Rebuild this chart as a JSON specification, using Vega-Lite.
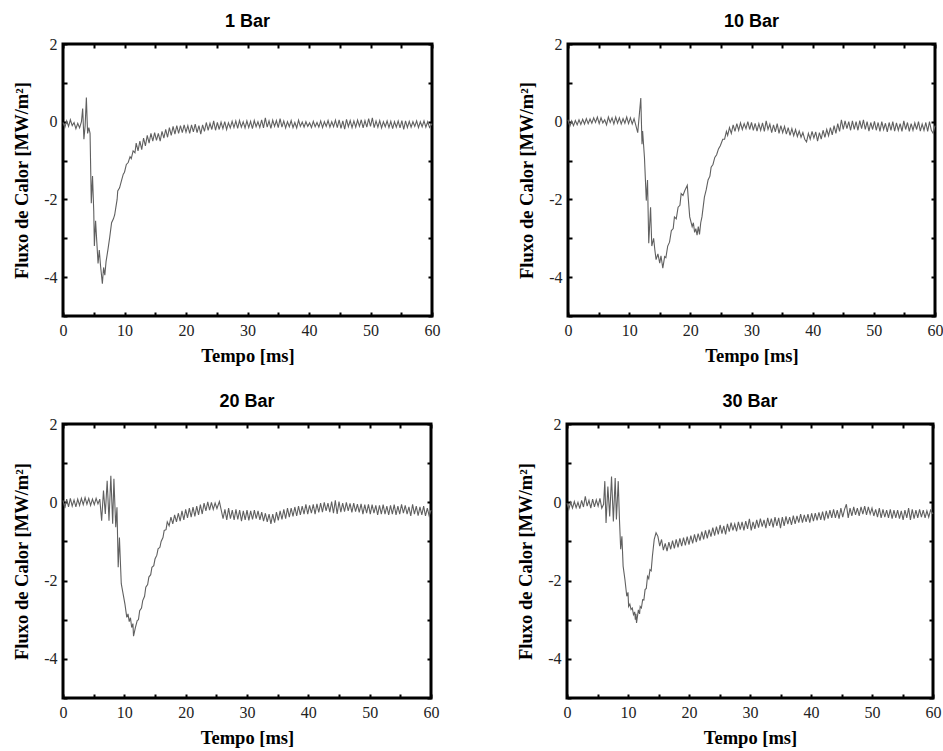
{
"$schema": "https://vega.github.io/schema/vega-lite/v6.json",
"padding": {"left": 11, "top": 11, "right": 0, "bottom": 0},
"background": "white",
"datasets": {
"b1": [{"t":0,"q":-0.02},{"t":0.3,"q":-0.15},{"t":0.6,"q":0.02},{"t":0.9,"q":-0.12},{"t":1.2,"q":0.05},{"t":1.5,"q":-0.1},{"t":1.8,"q":-0.02},{"t":2.1,"q":-0.18},{"t":2.4,"q":-0.04},{"t":2.7,"q":-0.16},{"t":3.0,"q":0.0},{"t":3.2,"q":0.34},{"t":3.4,"q":-0.45},{"t":3.6,"q":-0.1},{"t":3.8,"q":0.62},{"t":4.0,"q":-0.3},{"t":4.2,"q":-0.15},{"t":4.4,"q":-0.3},{"t":4.6,"q":-2.1},{"t":4.8,"q":-1.4},{"t":5.0,"q":-2.3},{"t":5.1,"q":-3.2},{"t":5.3,"q":-2.55},{"t":5.5,"q":-3.1},{"t":5.7,"q":-3.65},{"t":5.9,"q":-3.3},{"t":6.1,"q":-3.7},{"t":6.4,"q":-4.17},{"t":6.6,"q":-3.75},{"t":6.8,"q":-3.95},{"t":7.0,"q":-3.6},{"t":7.3,"q":-3.3},{"t":7.6,"q":-2.97},{"t":7.9,"q":-2.6},{"t":8.2,"q":-2.5},{"t":8.4,"q":-2.4},{"t":8.6,"q":-2.2},{"t":8.8,"q":-2.0},{"t":8.9,"q":-1.78},{"t":9.2,"q":-1.7},{"t":9.5,"q":-1.52},{"t":9.8,"q":-1.35},{"t":10.0,"q":-1.3},{"t":10.3,"q":-1.1},{"t":10.6,"q":-1.05},{"t":10.9,"q":-0.9},{"t":11.1,"q":-0.95},{"t":11.4,"q":-0.75},{"t":11.7,"q":-0.8},{"t":11.9,"q":-0.55},{"t":12.2,"q":-0.75},{"t":12.5,"q":-0.5},{"t":12.8,"q":-0.72},{"t":13.1,"q":-0.42},{"t":13.4,"q":-0.62},{"t":13.7,"q":-0.35},{"t":14.0,"q":-0.55},{"t":14.3,"q":-0.3},{"t":14.6,"q":-0.5},{"t":14.9,"q":-0.28},{"t":15.2,"q":-0.48},{"t":15.5,"q":-0.3},{"t":15.8,"q":-0.5},{"t":16.1,"q":-0.25},{"t":16.4,"q":-0.42},{"t":16.7,"q":-0.2},{"t":17.0,"q":-0.4},{"t":17.3,"q":-0.15},{"t":17.6,"q":-0.35},{"t":17.9,"q":-0.12},{"t":18.2,"q":-0.32},{"t":18.5,"q":-0.1},{"t":18.8,"q":-0.3},{"t":19.1,"q":-0.1},{"t":19.4,"q":-0.28},{"t":19.7,"q":-0.08},{"t":20.0,"q":-0.27},{"t":20.3,"q":-0.1},{"t":20.6,"q":-0.3},{"t":20.9,"q":-0.08},{"t":21.2,"q":-0.26},{"t":21.5,"q":-0.06},{"t":21.8,"q":-0.28},{"t":22.1,"q":-0.1},{"t":22.4,"q":-0.32},{"t":22.7,"q":-0.08},{"t":23.0,"q":-0.25},{"t":23.3,"q":-0.02},{"t":23.6,"q":-0.22},{"t":23.9,"q":-0.04},{"t":24.2,"q":-0.2},{"t":24.5,"q":0.02},{"t":24.8,"q":-0.22},{"t":25.1,"q":-0.02},{"t":25.4,"q":-0.2},{"t":25.7,"q":-0.01},{"t":26.0,"q":-0.18},{"t":26.3,"q":0.0},{"t":26.6,"q":-0.2},{"t":26.9,"q":-0.03},{"t":27.2,"q":-0.16},{"t":27.5,"q":0.01},{"t":27.8,"q":-0.15},{"t":28.1,"q":0.02},{"t":28.4,"q":-0.17},{"t":28.7,"q":0.03},{"t":29.0,"q":-0.14},{"t":29.3,"q":0.0},{"t":29.6,"q":-0.16},{"t":29.9,"q":0.02},{"t":30.2,"q":-0.15},{"t":30.5,"q":0.01},{"t":30.8,"q":-0.18},{"t":31.1,"q":0.03},{"t":31.4,"q":-0.13},{"t":31.7,"q":0.0},{"t":32.0,"q":-0.15},{"t":32.3,"q":0.05},{"t":32.6,"q":-0.16},{"t":32.9,"q":0.1},{"t":33.2,"q":-0.14},{"t":33.5,"q":0.02},{"t":33.8,"q":-0.17},{"t":34.1,"q":0.04},{"t":34.4,"q":-0.12},{"t":34.7,"q":0.03},{"t":35.0,"q":-0.15},{"t":35.3,"q":0.08},{"t":35.6,"q":-0.14},{"t":35.9,"q":0.02},{"t":36.2,"q":-0.16},{"t":36.5,"q":0.0},{"t":36.8,"q":-0.13},{"t":37.1,"q":0.03},{"t":37.4,"q":-0.15},{"t":37.7,"q":-0.02},{"t":38.0,"q":-0.16},{"t":38.3,"q":0.04},{"t":38.6,"q":-0.12},{"t":38.9,"q":-0.01},{"t":39.2,"q":-0.14},{"t":39.5,"q":0.0},{"t":39.8,"q":-0.12},{"t":40.1,"q":-0.03},{"t":40.4,"q":-0.15},{"t":40.7,"q":0.01},{"t":41.0,"q":-0.13},{"t":41.3,"q":-0.02},{"t":41.6,"q":-0.14},{"t":41.9,"q":0.02},{"t":42.2,"q":-0.15},{"t":42.5,"q":0.0},{"t":42.8,"q":-0.12},{"t":43.1,"q":0.03},{"t":43.4,"q":-0.14},{"t":43.7,"q":0.0},{"t":44.0,"q":-0.13},{"t":44.3,"q":0.04},{"t":44.6,"q":-0.15},{"t":44.9,"q":0.05},{"t":45.2,"q":-0.17},{"t":45.5,"q":0.02},{"t":45.8,"q":-0.19},{"t":46.1,"q":0.06},{"t":46.4,"q":-0.13},{"t":46.7,"q":0.03},{"t":47.0,"q":-0.15},{"t":47.3,"q":0.02},{"t":47.6,"q":-0.14},{"t":47.9,"q":0.04},{"t":48.2,"q":-0.12},{"t":48.5,"q":0.05},{"t":48.8,"q":-0.16},{"t":49.1,"q":0.03},{"t":49.4,"q":-0.14},{"t":49.7,"q":0.08},{"t":50.0,"q":-0.12},{"t":50.3,"q":0.1},{"t":50.6,"q":-0.15},{"t":50.9,"q":0.02},{"t":51.2,"q":-0.14},{"t":51.5,"q":0.03},{"t":51.8,"q":-0.16},{"t":52.1,"q":0.0},{"t":52.4,"q":-0.13},{"t":52.7,"q":0.02},{"t":53.0,"q":-0.15},{"t":53.3,"q":0.01},{"t":53.6,"q":-0.18},{"t":53.9,"q":0.0},{"t":54.2,"q":-0.14},{"t":54.5,"q":0.02},{"t":54.8,"q":-0.16},{"t":55.1,"q":0.03},{"t":55.4,"q":-0.2},{"t":55.7,"q":0.02},{"t":56.0,"q":-0.15},{"t":56.3,"q":0.01},{"t":56.6,"q":-0.14},{"t":56.9,"q":0.0},{"t":57.2,"q":-0.12},{"t":57.5,"q":0.02},{"t":57.8,"q":-0.15},{"t":58.1,"q":0.0},{"t":58.4,"q":-0.13},{"t":58.7,"q":0.02},{"t":59.0,"q":-0.14},{"t":59.3,"q":0.0},{"t":59.6,"q":-0.15},{"t":60.0,"q":-0.05}],
"b10": [{"t":0,"q":0.05},{"t":0.3,"q":-0.12},{"t":0.6,"q":0.02},{"t":0.9,"q":-0.1},{"t":1.2,"q":0.03},{"t":1.5,"q":-0.08},{"t":1.8,"q":0.05},{"t":2.1,"q":-0.07},{"t":2.4,"q":0.06},{"t":2.7,"q":-0.06},{"t":3.0,"q":0.08},{"t":3.3,"q":-0.05},{"t":3.6,"q":0.07},{"t":3.9,"q":-0.04},{"t":4.2,"q":0.1},{"t":4.5,"q":-0.02},{"t":4.8,"q":0.12},{"t":5.1,"q":-0.05},{"t":5.4,"q":0.1},{"t":5.7,"q":-0.03},{"t":6.0,"q":0.05},{"t":6.3,"q":-0.08},{"t":6.6,"q":0.12},{"t":6.9,"q":-0.02},{"t":7.2,"q":0.1},{"t":7.5,"q":-0.06},{"t":7.8,"q":0.12},{"t":8.1,"q":-0.04},{"t":8.4,"q":0.1},{"t":8.7,"q":-0.06},{"t":9.0,"q":0.08},{"t":9.3,"q":-0.04},{"t":9.6,"q":0.12},{"t":9.9,"q":-0.05},{"t":10.2,"q":0.1},{"t":10.5,"q":-0.06},{"t":10.8,"q":0.08},{"t":11.1,"q":-0.1},{"t":11.4,"q":-0.28},{"t":11.9,"q":0.61},{"t":12.1,"q":-0.58},{"t":12.2,"q":-0.24},{"t":12.5,"q":-0.92},{"t":12.8,"q":-2.03},{"t":13.0,"q":-1.5},{"t":13.2,"q":-3.13},{"t":13.5,"q":-2.2},{"t":13.7,"q":-3.2},{"t":14.0,"q":-3.0},{"t":14.2,"q":-3.3},{"t":14.4,"q":-3.55},{"t":14.7,"q":-3.4},{"t":15.0,"q":-3.64},{"t":15.2,"q":-3.45},{"t":15.5,"q":-3.77},{"t":15.8,"q":-3.47},{"t":16.0,"q":-3.5},{"t":16.3,"q":-3.2},{"t":16.6,"q":-3.1},{"t":16.9,"q":-2.8},{"t":17.2,"q":-2.75},{"t":17.4,"q":-2.45},{"t":17.7,"q":-2.5},{"t":18.0,"q":-2.2},{"t":18.3,"q":-2.15},{"t":18.5,"q":-1.85},{"t":18.8,"q":-1.9},{"t":19.1,"q":-1.77},{"t":19.5,"q":-1.64},{"t":19.9,"q":-2.45},{"t":20.3,"q":-2.7},{"t":20.5,"q":-2.6},{"t":20.7,"q":-2.85},{"t":20.9,"q":-2.75},{"t":21.1,"q":-2.92},{"t":21.3,"q":-2.7},{"t":21.5,"q":-2.9},{"t":21.7,"q":-2.6},{"t":21.9,"q":-2.45},{"t":22.3,"q":-1.94},{"t":22.6,"q":-1.75},{"t":22.9,"q":-1.5},{"t":23.2,"q":-1.4},{"t":23.4,"q":-1.17},{"t":23.7,"q":-1.1},{"t":24.0,"q":-0.92},{"t":24.3,"q":-0.85},{"t":24.6,"q":-0.7},{"t":24.9,"q":-0.62},{"t":25.3,"q":-0.45},{"t":25.6,"q":-0.45},{"t":25.9,"q":-0.25},{"t":26.1,"q":-0.35},{"t":26.4,"q":-0.15},{"t":26.7,"q":-0.3},{"t":27.0,"q":-0.08},{"t":27.3,"q":-0.25},{"t":27.6,"q":-0.05},{"t":27.9,"q":-0.22},{"t":28.2,"q":-0.03},{"t":28.5,"q":-0.2},{"t":28.8,"q":-0.05},{"t":29.1,"q":-0.18},{"t":29.4,"q":0.0},{"t":29.7,"q":-0.2},{"t":30.0,"q":-0.02},{"t":30.3,"q":-0.22},{"t":30.6,"q":-0.04},{"t":30.9,"q":-0.24},{"t":31.2,"q":-0.05},{"t":31.5,"q":-0.22},{"t":31.8,"q":-0.03},{"t":32.1,"q":-0.25},{"t":32.4,"q":0.02},{"t":32.7,"q":-0.2},{"t":33.0,"q":-0.06},{"t":33.3,"q":-0.28},{"t":33.6,"q":-0.08},{"t":33.9,"q":-0.26},{"t":34.2,"q":-0.05},{"t":34.5,"q":-0.3},{"t":34.8,"q":-0.1},{"t":35.1,"q":-0.28},{"t":35.4,"q":-0.12},{"t":35.7,"q":-0.32},{"t":36.0,"q":-0.15},{"t":36.3,"q":-0.35},{"t":36.6,"q":-0.18},{"t":36.9,"q":-0.36},{"t":37.2,"q":-0.2},{"t":37.5,"q":-0.38},{"t":37.8,"q":-0.24},{"t":38.1,"q":-0.4},{"t":38.4,"q":-0.28},{"t":38.7,"q":-0.45},{"t":39.0,"q":-0.52},{"t":39.3,"q":-0.3},{"t":39.6,"q":-0.45},{"t":39.9,"q":-0.25},{"t":40.2,"q":-0.42},{"t":40.5,"q":-0.26},{"t":40.8,"q":-0.5},{"t":41.1,"q":-0.28},{"t":41.4,"q":-0.45},{"t":41.7,"q":-0.22},{"t":42.0,"q":-0.4},{"t":42.3,"q":-0.2},{"t":42.6,"q":-0.36},{"t":42.9,"q":-0.15},{"t":43.2,"q":-0.34},{"t":43.5,"q":-0.1},{"t":43.8,"q":-0.3},{"t":44.1,"q":-0.05},{"t":44.4,"q":-0.25},{"t":44.7,"q":0.05},{"t":45.0,"q":-0.2},{"t":45.3,"q":0.02},{"t":45.6,"q":-0.18},{"t":45.9,"q":0.0},{"t":46.2,"q":-0.22},{"t":46.5,"q":0.02},{"t":46.8,"q":-0.2},{"t":47.1,"q":0.0},{"t":47.4,"q":-0.22},{"t":47.7,"q":0.03},{"t":48.0,"q":-0.18},{"t":48.3,"q":0.05},{"t":48.6,"q":-0.2},{"t":48.9,"q":0.0},{"t":49.2,"q":-0.24},{"t":49.5,"q":-0.02},{"t":49.8,"q":-0.2},{"t":50.1,"q":0.01},{"t":50.4,"q":-0.22},{"t":50.7,"q":-0.02},{"t":51.0,"q":-0.25},{"t":51.3,"q":0.0},{"t":51.6,"q":-0.2},{"t":51.9,"q":-0.04},{"t":52.2,"q":-0.26},{"t":52.5,"q":-0.02},{"t":52.8,"q":-0.22},{"t":53.1,"q":0.0},{"t":53.4,"q":-0.24},{"t":53.7,"q":-0.03},{"t":54.0,"q":-0.22},{"t":54.3,"q":-0.05},{"t":54.6,"q":-0.25},{"t":54.9,"q":0.02},{"t":55.2,"q":-0.2},{"t":55.5,"q":-0.02},{"t":55.8,"q":-0.25},{"t":56.1,"q":-0.05},{"t":56.4,"q":-0.22},{"t":56.7,"q":-0.03},{"t":57.0,"q":-0.2},{"t":57.3,"q":0.0},{"t":57.6,"q":-0.24},{"t":57.9,"q":-0.06},{"t":58.2,"q":-0.22},{"t":58.5,"q":-0.02},{"t":58.8,"q":-0.25},{"t":59.1,"q":0.0},{"t":59.4,"q":-0.22},{"t":59.7,"q":-0.3},{"t":60.0,"q":-0.1}],
"b20": [{"t":0,"q":0.05},{"t":0.3,"q":-0.15},{"t":0.6,"q":0.08},{"t":0.9,"q":-0.12},{"t":1.2,"q":0.1},{"t":1.5,"q":-0.1},{"t":1.8,"q":0.06},{"t":2.1,"q":-0.12},{"t":2.4,"q":0.08},{"t":2.7,"q":-0.08},{"t":3.0,"q":0.1},{"t":3.3,"q":-0.06},{"t":3.6,"q":0.12},{"t":3.9,"q":-0.05},{"t":4.2,"q":0.1},{"t":4.5,"q":-0.08},{"t":4.8,"q":0.08},{"t":5.1,"q":-0.06},{"t":5.4,"q":0.1},{"t":5.7,"q":-0.04},{"t":6.0,"q":0.08},{"t":6.3,"q":-0.47},{"t":6.6,"q":0.3},{"t":6.9,"q":-0.3},{"t":7.2,"q":0.55},{"t":7.5,"q":-0.47},{"t":7.8,"q":0.68},{"t":8.1,"q":-0.55},{"t":8.3,"q":0.6},{"t":8.6,"q":-0.64},{"t":8.8,"q":-0.13},{"t":9.0,"q":-1.66},{"t":9.2,"q":-0.9},{"t":9.5,"q":-2.08},{"t":9.8,"q":-2.34},{"t":10.1,"q":-2.6},{"t":10.4,"q":-2.94},{"t":10.6,"q":-2.85},{"t":10.8,"q":-3.05},{"t":11.0,"q":-2.95},{"t":11.2,"q":-3.2},{"t":11.4,"q":-3.1},{"t":11.5,"q":-3.42},{"t":11.8,"q":-3.2},{"t":12.1,"q":-3.02},{"t":12.3,"q":-3.0},{"t":12.5,"q":-2.77},{"t":12.8,"q":-2.7},{"t":13.0,"q":-2.51},{"t":13.3,"q":-2.4},{"t":13.5,"q":-2.17},{"t":13.8,"q":-2.1},{"t":14.0,"q":-1.91},{"t":14.3,"q":-1.85},{"t":14.5,"q":-1.66},{"t":14.8,"q":-1.62},{"t":15.0,"q":-1.45},{"t":15.3,"q":-1.35},{"t":15.5,"q":-1.19},{"t":15.8,"q":-1.15},{"t":16.0,"q":-1.0},{"t":16.3,"q":-0.9},{"t":16.5,"q":-0.72},{"t":16.8,"q":-0.7},{"t":17.0,"q":-0.5},{"t":17.3,"q":-0.6},{"t":17.6,"q":-0.38},{"t":17.9,"q":-0.55},{"t":18.2,"q":-0.32},{"t":18.5,"q":-0.5},{"t":18.8,"q":-0.28},{"t":19.1,"q":-0.48},{"t":19.4,"q":-0.22},{"t":19.7,"q":-0.45},{"t":20.0,"q":-0.18},{"t":20.3,"q":-0.4},{"t":20.6,"q":-0.15},{"t":20.9,"q":-0.38},{"t":21.2,"q":-0.12},{"t":21.5,"q":-0.36},{"t":21.8,"q":-0.1},{"t":22.1,"q":-0.32},{"t":22.4,"q":-0.06},{"t":22.7,"q":-0.3},{"t":23.0,"q":-0.02},{"t":23.3,"q":-0.22},{"t":23.6,"q":0.01},{"t":23.9,"q":-0.2},{"t":24.2,"q":0.0},{"t":24.5,"q":-0.18},{"t":24.8,"q":-0.02},{"t":25.1,"q":-0.16},{"t":25.5,"q":0.02},{"t":25.8,"q":-0.2},{"t":26.1,"q":-0.42},{"t":26.4,"q":-0.18},{"t":26.7,"q":-0.45},{"t":27.0,"q":-0.15},{"t":27.3,"q":-0.42},{"t":27.6,"q":-0.2},{"t":27.9,"q":-0.45},{"t":28.2,"q":-0.18},{"t":28.5,"q":-0.44},{"t":28.8,"q":-0.2},{"t":29.1,"q":-0.48},{"t":29.4,"q":-0.22},{"t":29.7,"q":-0.45},{"t":30.0,"q":-0.2},{"t":30.3,"q":-0.46},{"t":30.6,"q":-0.22},{"t":30.9,"q":-0.44},{"t":31.2,"q":-0.2},{"t":31.5,"q":-0.42},{"t":31.8,"q":-0.22},{"t":32.1,"q":-0.45},{"t":32.4,"q":-0.25},{"t":32.7,"q":-0.48},{"t":33.0,"q":-0.28},{"t":33.3,"q":-0.5},{"t":33.6,"q":-0.3},{"t":33.9,"q":-0.55},{"t":34.2,"q":-0.3},{"t":34.5,"q":-0.52},{"t":34.8,"q":-0.25},{"t":35.1,"q":-0.46},{"t":35.4,"q":-0.22},{"t":35.7,"q":-0.44},{"t":36.0,"q":-0.18},{"t":36.3,"q":-0.42},{"t":36.6,"q":-0.15},{"t":36.9,"q":-0.38},{"t":37.2,"q":-0.15},{"t":37.5,"q":-0.36},{"t":37.8,"q":-0.12},{"t":38.1,"q":-0.35},{"t":38.4,"q":-0.1},{"t":38.7,"q":-0.32},{"t":39.0,"q":-0.1},{"t":39.3,"q":-0.3},{"t":39.6,"q":-0.05},{"t":39.9,"q":-0.3},{"t":40.2,"q":-0.08},{"t":40.5,"q":-0.28},{"t":40.8,"q":-0.05},{"t":41.1,"q":-0.3},{"t":41.4,"q":-0.04},{"t":41.7,"q":-0.26},{"t":42.0,"q":-0.02},{"t":42.3,"q":-0.25},{"t":42.6,"q":0.0},{"t":42.9,"q":-0.22},{"t":43.2,"q":-0.02},{"t":43.5,"q":-0.25},{"t":43.8,"q":0.02},{"t":44.1,"q":-0.28},{"t":44.4,"q":0.05},{"t":44.7,"q":-0.3},{"t":45.0,"q":0.02},{"t":45.3,"q":-0.25},{"t":45.6,"q":-0.02},{"t":45.9,"q":-0.24},{"t":46.2,"q":0.0},{"t":46.5,"q":-0.22},{"t":46.8,"q":-0.03},{"t":47.1,"q":-0.26},{"t":47.4,"q":-0.02},{"t":47.7,"q":-0.24},{"t":48.0,"q":-0.05},{"t":48.3,"q":-0.26},{"t":48.6,"q":-0.04},{"t":48.9,"q":-0.3},{"t":49.2,"q":-0.06},{"t":49.5,"q":-0.28},{"t":49.8,"q":-0.05},{"t":50.1,"q":-0.3},{"t":50.4,"q":-0.06},{"t":50.7,"q":-0.28},{"t":51.0,"q":-0.08},{"t":51.3,"q":-0.32},{"t":51.6,"q":-0.08},{"t":51.9,"q":-0.3},{"t":52.2,"q":-0.06},{"t":52.5,"q":-0.3},{"t":52.8,"q":-0.1},{"t":53.1,"q":-0.32},{"t":53.4,"q":-0.08},{"t":53.7,"q":-0.3},{"t":54.0,"q":-0.06},{"t":54.3,"q":-0.32},{"t":54.6,"q":-0.1},{"t":54.9,"q":-0.3},{"t":55.2,"q":-0.05},{"t":55.5,"q":-0.28},{"t":55.8,"q":-0.08},{"t":56.1,"q":-0.3},{"t":56.4,"q":-0.12},{"t":56.7,"q":-0.35},{"t":57.0,"q":-0.05},{"t":57.3,"q":-0.3},{"t":57.6,"q":-0.1},{"t":57.9,"q":-0.34},{"t":58.2,"q":-0.12},{"t":58.5,"q":-0.32},{"t":58.8,"q":-0.1},{"t":59.1,"q":-0.35},{"t":59.4,"q":-0.15},{"t":59.7,"q":-0.35},{"t":60.0,"q":-0.2}],
"b30": [{"t":0,"q":-0.02},{"t":0.3,"q":-0.18},{"t":0.6,"q":0.0},{"t":0.9,"q":-0.15},{"t":1.2,"q":0.02},{"t":1.5,"q":-0.14},{"t":1.8,"q":0.0},{"t":2.1,"q":-0.16},{"t":2.4,"q":0.05},{"t":2.7,"q":-0.12},{"t":3.0,"q":0.15},{"t":3.3,"q":-0.1},{"t":3.6,"q":0.05},{"t":3.9,"q":-0.15},{"t":4.2,"q":0.08},{"t":4.5,"q":-0.12},{"t":4.8,"q":0.06},{"t":5.1,"q":-0.1},{"t":5.4,"q":0.1},{"t":5.7,"q":-0.15},{"t":6.0,"q":-0.05},{"t":6.2,"q":0.54},{"t":6.4,"q":-0.53},{"t":6.7,"q":0.4},{"t":7.0,"q":-0.36},{"t":7.3,"q":0.66},{"t":7.6,"q":-0.49},{"t":7.9,"q":0.62},{"t":8.1,"q":-0.44},{"t":8.4,"q":0.54},{"t":8.6,"q":-0.44},{"t":8.8,"q":-1.2},{"t":9.0,"q":-0.87},{"t":9.2,"q":-1.63},{"t":9.5,"q":-1.98},{"t":9.8,"q":-2.4},{"t":10.0,"q":-2.3},{"t":10.1,"q":-2.66},{"t":10.3,"q":-2.6},{"t":10.5,"q":-2.74},{"t":10.7,"q":-2.7},{"t":10.9,"q":-2.87},{"t":11.1,"q":-2.8},{"t":11.2,"q":-3.0},{"t":11.3,"q":-2.85},{"t":11.4,"q":-3.08},{"t":11.7,"q":-2.75},{"t":11.9,"q":-2.85},{"t":12.0,"q":-2.66},{"t":12.2,"q":-2.7},{"t":12.4,"q":-2.49},{"t":12.6,"q":-2.5},{"t":12.8,"q":-2.23},{"t":13.0,"q":-2.2},{"t":13.2,"q":-1.89},{"t":13.4,"q":-1.95},{"t":13.6,"q":-1.72},{"t":13.8,"q":-1.75},{"t":14.0,"q":-1.38},{"t":14.3,"q":-0.95},{"t":14.6,"q":-0.78},{"t":14.9,"q":-0.87},{"t":15.2,"q":-1.12},{"t":15.5,"q":-0.95},{"t":15.8,"q":-1.22},{"t":16.1,"q":-1.05},{"t":16.4,"q":-1.25},{"t":16.7,"q":-1.02},{"t":17.0,"q":-1.2},{"t":17.3,"q":-0.98},{"t":17.6,"q":-1.18},{"t":17.9,"q":-0.95},{"t":18.2,"q":-1.15},{"t":18.5,"q":-0.92},{"t":18.8,"q":-1.12},{"t":19.1,"q":-0.9},{"t":19.4,"q":-1.1},{"t":19.7,"q":-0.88},{"t":20.0,"q":-1.08},{"t":20.3,"q":-0.85},{"t":20.6,"q":-1.05},{"t":20.9,"q":-0.82},{"t":21.2,"q":-1.02},{"t":21.5,"q":-0.8},{"t":21.8,"q":-0.98},{"t":22.1,"q":-0.75},{"t":22.4,"q":-0.95},{"t":22.7,"q":-0.72},{"t":23.0,"q":-0.92},{"t":23.3,"q":-0.7},{"t":23.6,"q":-0.88},{"t":23.9,"q":-0.65},{"t":24.2,"q":-0.85},{"t":24.5,"q":-0.62},{"t":24.8,"q":-0.82},{"t":25.1,"q":-0.58},{"t":25.4,"q":-0.8},{"t":25.7,"q":-0.6},{"t":26.0,"q":-0.82},{"t":26.3,"q":-0.55},{"t":26.6,"q":-0.75},{"t":26.9,"q":-0.52},{"t":27.2,"q":-0.72},{"t":27.5,"q":-0.55},{"t":27.8,"q":-0.74},{"t":28.1,"q":-0.5},{"t":28.4,"q":-0.7},{"t":28.7,"q":-0.5},{"t":29.0,"q":-0.72},{"t":29.3,"q":-0.48},{"t":29.6,"q":-0.68},{"t":29.9,"q":-0.42},{"t":30.2,"q":-0.72},{"t":30.5,"q":-0.5},{"t":30.8,"q":-0.68},{"t":31.1,"q":-0.45},{"t":31.4,"q":-0.65},{"t":31.7,"q":-0.42},{"t":32.0,"q":-0.62},{"t":32.3,"q":-0.45},{"t":32.6,"q":-0.66},{"t":32.9,"q":-0.4},{"t":33.2,"q":-0.6},{"t":33.5,"q":-0.42},{"t":33.8,"q":-0.64},{"t":34.1,"q":-0.38},{"t":34.4,"q":-0.6},{"t":34.7,"q":-0.4},{"t":35.0,"q":-0.66},{"t":35.3,"q":-0.38},{"t":35.6,"q":-0.6},{"t":35.9,"q":-0.36},{"t":36.2,"q":-0.56},{"t":36.5,"q":-0.38},{"t":36.8,"q":-0.58},{"t":37.1,"q":-0.34},{"t":37.4,"q":-0.55},{"t":37.7,"q":-0.35},{"t":38.0,"q":-0.52},{"t":38.3,"q":-0.3},{"t":38.6,"q":-0.52},{"t":38.9,"q":-0.32},{"t":39.2,"q":-0.5},{"t":39.5,"q":-0.3},{"t":39.8,"q":-0.52},{"t":40.1,"q":-0.28},{"t":40.4,"q":-0.48},{"t":40.7,"q":-0.28},{"t":41.0,"q":-0.46},{"t":41.3,"q":-0.26},{"t":41.6,"q":-0.45},{"t":41.9,"q":-0.24},{"t":42.2,"q":-0.46},{"t":42.5,"q":-0.22},{"t":42.8,"q":-0.42},{"t":43.1,"q":-0.2},{"t":43.4,"q":-0.4},{"t":43.7,"q":-0.18},{"t":44.0,"q":-0.4},{"t":44.3,"q":-0.2},{"t":44.6,"q":-0.42},{"t":44.9,"q":-0.15},{"t":45.2,"q":-0.38},{"t":45.5,"q":-0.18},{"t":45.8,"q":-0.05},{"t":46.1,"q":-0.4},{"t":46.4,"q":-0.15},{"t":46.7,"q":-0.35},{"t":47.0,"q":-0.12},{"t":47.3,"q":-0.32},{"t":47.6,"q":-0.15},{"t":47.9,"q":-0.35},{"t":48.2,"q":-0.12},{"t":48.5,"q":-0.3},{"t":48.8,"q":-0.1},{"t":49.1,"q":-0.32},{"t":49.4,"q":-0.12},{"t":49.7,"q":-0.3},{"t":50.0,"q":-0.15},{"t":50.3,"q":-0.35},{"t":50.6,"q":-0.18},{"t":50.9,"q":-0.38},{"t":51.2,"q":-0.15},{"t":51.5,"q":-0.4},{"t":51.8,"q":-0.18},{"t":52.1,"q":-0.38},{"t":52.4,"q":-0.2},{"t":52.7,"q":-0.4},{"t":53.0,"q":-0.18},{"t":53.3,"q":-0.42},{"t":53.6,"q":-0.2},{"t":53.9,"q":-0.4},{"t":54.2,"q":-0.2},{"t":54.5,"q":-0.42},{"t":54.8,"q":-0.22},{"t":55.1,"q":-0.45},{"t":55.4,"q":-0.2},{"t":55.7,"q":-0.4},{"t":56.0,"q":-0.15},{"t":56.3,"q":-0.45},{"t":56.6,"q":-0.18},{"t":56.9,"q":-0.42},{"t":57.2,"q":-0.2},{"t":57.5,"q":-0.4},{"t":57.8,"q":-0.18},{"t":58.1,"q":-0.38},{"t":58.4,"q":-0.2},{"t":58.7,"q":-0.4},{"t":59.0,"q":-0.22},{"t":59.3,"q":-0.38},{"t":59.6,"q":-0.2},{"t":60.0,"q":-0.3}]
},
"vconcat": [
 {"hconcat": [
  {"title": {"text": "1 Bar"}, "width": 369, "height": 272, "data": {"name": "b1"},
   "layer": [
    {"mark": {"type": "line", "color": "#606060", "strokeWidth": 1.1},
     "encoding": {
      "x": {"field": "t", "type": "quantitative", "scale": {"domain": [0, 60], "nice": false, "zero": false}, "axis": {"orient": "bottom", "title": "Tempo [ms]", "values": [0,5,10,15,20,25,30,35,40,45,50,55,60], "labelExpr": "datum.value % 10 === 0 ? '' + datum.value : ''"}},
      "y": {"field": "q", "type": "quantitative", "scale": {"domain": [-5, 2], "nice": false, "zero": false}, "axis": {"orient": "left", "title": "Fluxo de Calor [MW/m²]", "values": [-5,-4,-3,-2,-1,0,1,2], "labelExpr": "datum.value % 2 === 0 ? '' + datum.value : ''"}}}},
    {"mark": {"type": "line", "strokeOpacity": 0},
     "encoding": {
      "x": {"field": "t", "type": "quantitative", "scale": {"domain": [0, 60], "nice": false, "zero": false}, "axis": {"orient": "top", "title": null, "labels": false, "values": [0,5,10,15,20,25,30,35,40,45,50,55,60]}},
      "y": {"field": "q", "type": "quantitative", "scale": {"domain": [-5, 2], "nice": false, "zero": false}, "axis": {"orient": "right", "title": null, "labels": false, "values": [-5,-4,-3,-2,-1,0,1,2]}}}}
   ],
   "resolve": {"axis": {"x": "independent", "y": "independent"}}},
  {"title": {"text": "10 Bar"}, "width": 367, "height": 272, "data": {"name": "b10"},
   "layer": [
    {"mark": {"type": "line", "color": "#606060", "strokeWidth": 1.1},
     "encoding": {
      "x": {"field": "t", "type": "quantitative", "scale": {"domain": [0, 60], "nice": false, "zero": false}, "axis": {"orient": "bottom", "title": "Tempo [ms]", "values": [0,5,10,15,20,25,30,35,40,45,50,55,60], "labelExpr": "datum.value % 10 === 0 ? '' + datum.value : ''"}},
      "y": {"field": "q", "type": "quantitative", "scale": {"domain": [-5, 2], "nice": false, "zero": false}, "axis": {"orient": "left", "title": "Fluxo de Calor [MW/m²]", "values": [-5,-4,-3,-2,-1,0,1,2], "labelExpr": "datum.value % 2 === 0 ? '' + datum.value : ''"}}}},
    {"mark": {"type": "line", "strokeOpacity": 0},
     "encoding": {
      "x": {"field": "t", "type": "quantitative", "scale": {"domain": [0, 60], "nice": false, "zero": false}, "axis": {"orient": "top", "title": null, "labels": false, "values": [0,5,10,15,20,25,30,35,40,45,50,55,60]}},
      "y": {"field": "q", "type": "quantitative", "scale": {"domain": [-5, 2], "nice": false, "zero": false}, "axis": {"orient": "right", "title": null, "labels": false, "values": [-5,-4,-3,-2,-1,0,1,2]}}}}
   ],
   "resolve": {"axis": {"x": "independent", "y": "independent"}}}
 ], "spacing": 74},
 {"hconcat": [
  {"title": {"text": "20 Bar"}, "width": 368, "height": 274, "data": {"name": "b20"},
   "layer": [
    {"mark": {"type": "line", "color": "#606060", "strokeWidth": 1.1},
     "encoding": {
      "x": {"field": "t", "type": "quantitative", "scale": {"domain": [0, 60], "nice": false, "zero": false}, "axis": {"orient": "bottom", "title": "Tempo [ms]", "values": [0,5,10,15,20,25,30,35,40,45,50,55,60], "labelExpr": "datum.value % 10 === 0 ? '' + datum.value : ''"}},
      "y": {"field": "q", "type": "quantitative", "scale": {"domain": [-5, 2], "nice": false, "zero": false}, "axis": {"orient": "left", "title": "Fluxo de Calor [MW/m²]", "values": [-5,-4,-3,-2,-1,0,1,2], "labelExpr": "datum.value % 2 === 0 ? '' + datum.value : ''"}}}},
    {"mark": {"type": "line", "strokeOpacity": 0},
     "encoding": {
      "x": {"field": "t", "type": "quantitative", "scale": {"domain": [0, 60], "nice": false, "zero": false}, "axis": {"orient": "top", "title": null, "labels": false, "values": [0,5,10,15,20,25,30,35,40,45,50,55,60]}},
      "y": {"field": "q", "type": "quantitative", "scale": {"domain": [-5, 2], "nice": false, "zero": false}, "axis": {"orient": "right", "title": null, "labels": false, "values": [-5,-4,-3,-2,-1,0,1,2]}}}}
   ],
   "resolve": {"axis": {"x": "independent", "y": "independent"}}},
  {"title": {"text": "30 Bar"}, "width": 366, "height": 274, "data": {"name": "b30"},
   "layer": [
    {"mark": {"type": "line", "color": "#606060", "strokeWidth": 1.1},
     "encoding": {
      "x": {"field": "t", "type": "quantitative", "scale": {"domain": [0, 60], "nice": false, "zero": false}, "axis": {"orient": "bottom", "title": "Tempo [ms]", "values": [0,5,10,15,20,25,30,35,40,45,50,55,60], "labelExpr": "datum.value % 10 === 0 ? '' + datum.value : ''"}},
      "y": {"field": "q", "type": "quantitative", "scale": {"domain": [-5, 2], "nice": false, "zero": false}, "axis": {"orient": "left", "title": "Fluxo de Calor [MW/m²]", "values": [-5,-4,-3,-2,-1,0,1,2], "labelExpr": "datum.value % 2 === 0 ? '' + datum.value : ''"}}}},
    {"mark": {"type": "line", "strokeOpacity": 0},
     "encoding": {
      "x": {"field": "t", "type": "quantitative", "scale": {"domain": [0, 60], "nice": false, "zero": false}, "axis": {"orient": "top", "title": null, "labels": false, "values": [0,5,10,15,20,25,30,35,40,45,50,55,60]}},
      "y": {"field": "q", "type": "quantitative", "scale": {"domain": [-5, 2], "nice": false, "zero": false}, "axis": {"orient": "right", "title": null, "labels": false, "values": [-5,-4,-3,-2,-1,0,1,2]}}}}
   ],
   "resolve": {"axis": {"x": "independent", "y": "independent"}}}
 ], "spacing": 74}
],
"spacing": 25,
"config": {
 "view": {"stroke": "black", "strokeWidth": 3},
 "axis": {"domain": false, "grid": false, "tickSize": -4, "tickWidth": 2, "tickColor": "black", "labelFont": "Liberation Serif", "labelFontSize": 16, "labelColor": "#222", "labelPadding": 10, "labelOverlap": false, "labelFlush": false, "titleFont": "Liberation Serif", "titleFontSize": 18.5, "titleFontWeight": "bold", "titleColor": "black"},
 "axisX": {"titlePadding": 8},
 "axisY": {"titlePadding": 12},
 "title": {"font": "Liberation Sans", "fontSize": 18, "fontWeight": "bold", "color": "black", "offset": 5}
}
}
